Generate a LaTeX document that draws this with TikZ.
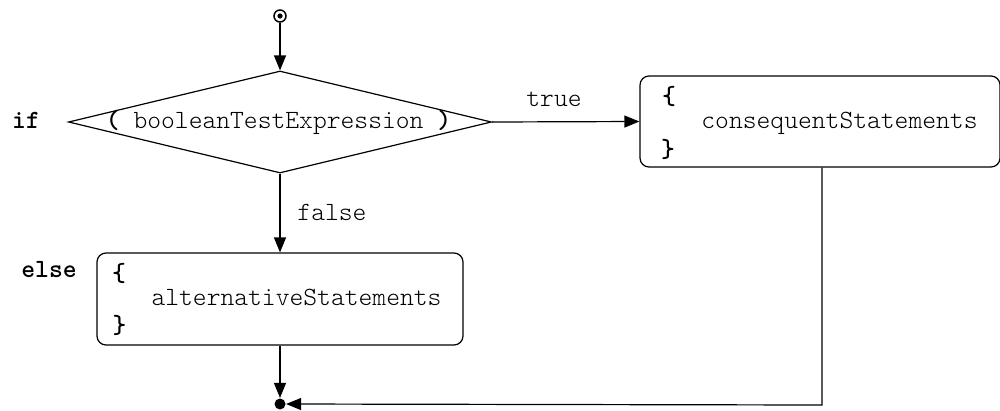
\documentclass[tikz,border=0pt]{standalone}
\usepackage{fontspec}
\setmonofont{lmmonolt10-regular.otf}[BoldFont=lmmonolt10-bold.otf]
\usetikzlibrary{shapes.geometric,arrows.meta}
\begin{document}
\begin{tikzpicture}[x=1pt,y=-1pt,
  line width=1.2pt,
  txt/.style={font=\ttfamily\fontsize{26.3}{30}\selectfont, inner sep=0pt, anchor=base},
  stbox/.style={draw, rectangle, rounded corners=9pt, inner sep=0pt},
  arr/.style={-{Triangle[length=15pt,width=12pt]}},
  ]
\useasboundingbox (0,0) rectangle (1000,410);
% start symbol
\node[draw, circle, minimum size=12pt, inner sep=0pt, line width=1.5pt] (start) at (280,16) {};
\fill (start.center) circle (2.6pt);
% decision diamond
\node[draw, diamond, minimum width=423pt, minimum height=102pt, inner sep=0pt] (d) at (280,122) {};
\node[txt] (cond) at (278.5,128) {\textbf{(} booleanTestExpression \textbf{)}};
\node[txt] (if) at (26,128) {\textbf{if}};
% consequent box
\node[stbox, minimum width=360pt, minimum height=91pt] (cbox) at (820,121.5) {};
\node[txt] (cb1) at (669,104) {\textbf{\{}};
\node[txt] (ctext) at (839.5,128) {consequentStatements};
\node[txt] (cb2) at (668,157) {\textbf{\}}};
% alternative box
\node[stbox, minimum width=366pt, minimum height=92pt] (abox) at (280,299) {};
\node[txt] (ab1) at (119,281) {\textbf{\{}};
\node[txt] (atext) at (296.5,305) {alternativeStatements};
\node[txt] (ab2) at (119.5,333) {\textbf{\}}};
\node[txt] (else) at (49,277) {\textbf{else}};
% merge point
\node[circle, fill, minimum size=11pt, inner sep=0pt] (merge) at (280,404) {};
\coordinate (corner) at (822,405);
% connectors
\draw[arr] (start.south) -- (d.north);
\draw[arr] (d.east) -- (cbox.west);
\node[txt] (true) at (554,106) {true};
\draw[arr] (d.south) -- (abox.north);
\node[txt] (false) at (332,220) {false};
\draw[arr] (abox.south) -- (merge.north);
\draw[arr] (cbox.south -| corner) -- (corner) -- (merge.east);
\end{tikzpicture}
\end{document}
